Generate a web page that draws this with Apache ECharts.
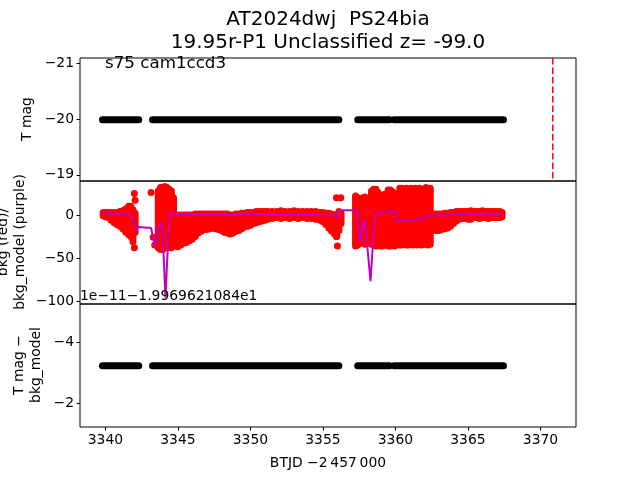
<!DOCTYPE html>
<html>
<head>
<meta charset="utf-8">
<script src="https://cdn.jsdelivr.net/npm/echarts@6/dist/echarts.min.js"></script>
<style>
  html, body { margin: 0; padding: 0; background: #fff; }
  #chart { width: 640px; height: 480px; }
</style>
</head>
<body>
<div id="chart"></div>
<script>
// time axis ticks (BTJD - 2457000)
const xTicks = [3340, 3345, 3350, 3355, 3360, 3365, 3370];
const discoveryT = 3370.85;

// black light-curve blocks: start/end times of the runs of points
const segStart = [3339.8, 3343.25, 3357.4, 3359.9];
const segEnd = [3342.3, 3356.1, 3359.6, 3367.45];
const tmag = -19.99;          // top panel
const tmagMinusModel = -3.22; // bottom panel (x1e-11, offset shown as text)

// red background points, given as low/high per time bin
const bkgT = [3339.85, 3340.0, 3340.2, 3340.4, 3340.6, 3340.8, 3341.0, 3341.2, 3341.4, 3341.6, 3341.75, 3341.9, 3342.05,
  3343.65, 3343.8, 3343.95, 3344.1, 3344.25, 3344.4, 3344.55, 3344.7,
  3344.85, 3345.0, 3345.2, 3345.4, 3345.6, 3345.8, 3346.0, 3346.2, 3346.4, 3346.6, 3346.8, 3347.0, 3347.2, 3347.4, 3347.6, 3347.8,
  3348.0, 3348.2, 3348.4, 3348.6, 3348.8, 3349.0, 3349.2, 3349.4, 3349.6, 3349.8, 3350.0, 3350.2, 3350.4, 3350.6, 3350.8, 3351.0, 3351.2,
  3351.5, 3351.8, 3352.1, 3352.4, 3352.7, 3353.0, 3353.3, 3353.6, 3353.9, 3354.2, 3354.5, 3354.8,
  3355.0, 3355.2, 3355.4, 3355.6, 3355.8, 3355.95, 3356.1, 3356.25,
  3357.25, 3357.4, 3357.75, 3357.9, 3358.05, 3358.35, 3358.5, 3358.65, 3358.8, 3358.95, 3359.1, 3359.25, 3359.5, 3359.65, 3359.8, 3359.95,
  3360.3, 3360.45, 3360.6, 3360.75, 3360.9, 3361.05, 3361.2, 3361.35, 3361.5, 3361.65, 3361.8, 3361.95, 3362.1, 3362.25, 3362.4,
  3362.6, 3362.8, 3363.0, 3363.2, 3363.4, 3363.6, 3363.8, 3364.0, 3364.2, 3364.4, 3364.6,
  3364.8, 3365.0, 3365.2, 3365.4, 3365.6, 3365.8, 3366.0, 3366.2, 3366.4, 3366.6, 3366.8, 3367.0, 3367.2, 3367.35];
const bkgLo = [-1, -2, -3, -6, -9, -11, -13, -16, -20, -23, -25, -28, -20,
  -38, -40, -40, -38, -36, -38, -38, -36,
  -36, -37, -35, -33, -32, -30, -28, -25, -21, -19, -17, -17, -16, -15, -16, -17,
  -18, -20, -21, -22, -21, -19, -18, -16, -14, -13, -12, -10, -9, -8, -7, -6, -5,
  -4, -3, -4, -3, -4, -3, -4, -3, -4, -4, -5, -6,
  -8, -11, -15, -19, -22, -25, -18, -10,
  -36, -35, -33, -34, -33, -34, -35, -36, -35, -36, -36, -35, -36, -36, -35, -36,
  -35, -35, -34, -35, -35, -34, -35, -34, -35, -34, -35, -34, -34, -35, -34,
  -18, -18, -18, -17, -16, -15, -13, -10, -7, -5, -4,
  -4, -5, -5, -3, -3, -4, -3, -3, -4, -3, -3, -3, -3, -2];
const bkgHi = [3, 3, 3, 3, 3, 3, 4, 5, 7, 10, 10, 6, 2,
  28, 32, 30, 33, 32, 30, 28, 20,
  0, 0, 0, 0, 0, 0, 0, 1, 1, 1, 1, 1, 1, 1, 1, 1,
  1, 1, 1, 0, 0, 1, 1, 2, 2, 3, 3, 3, 4, 4, 4, 4, 4,
  4, 4, 5, 4, 4, 5, 4, 4, 4, 4, 4, 3,
  3, 2, 2, 1, 0, 0, 4, 2,
  22, 20, 20, 21, 19, 28, 30, 30, 26, 22, 22, 24, 29, 29, 27, 25,
  31, 31, 30, 31, 28, 31, 30, 31, 29, 31, 30, 28, 32, 30, 31,
  1, 1, 1, 1, 2, 2, 3, 3, 4, 4, 4,
  4, 4, 5, 4, 4, 4, 5, 4, 4, 4, 4, 4, 4, 3];

// isolated red points
const outT = [3341.9, 3342.0, 3342.0, 3342.05, 3343.15, 3343.3, 3343.4, 3355.93, 3356.23, 3355.93, 3356.0];
const outV = [-31, -38, 25, 17, 26, -26, -35, 20, 20, -25, -36];

// purple background model
const modelT = [3339.85, 3341.75, 3341.95, 3342.12, 3342.3, 3343.15, 3343.3, 3343.45, 3343.6, 3343.85, 3343.96, 3344.14, 3344.42,
  3345.5, 3347.0, 3348.5, 3350.0, 3351.5, 3353.0, 3354.5, 3355.9, 3356.0, 3356.1, 3357.38, 3357.54, 3357.89, 3358.28, 3358.58,
  3359.27, 3359.96, 3360.08, 3361.34, 3361.55, 3361.8, 3362.24, 3362.72, 3363.5, 3364.2, 3365.5, 3367.35];
const modelV = [2, 1, -6, -17, -14, -15, -27, -37, -17, -8, -25, -96, 2,
  1, 1, 0, 1, 0, 0, 0, -1, -4, 5.5, 5.5, -32, -5, -77, 1,
  4, 4, -7, -7, -4, -5, -1, 0, -1, 1, 1, 1];

const yTicks1 = [-21, -20, -19];
const yTicks2 = [-100, -50, 0];
const yTicks3 = [-4, -2];

const FONT = 'DejaVu Sans';
const xMin = 3338.25, xMax = 3372.45;
const y1Min = -21.095, y1Max = -18.89;

const fmt = v => String(v).replace('-', '\u2212');

const myChart = echarts.init(document.getElementById('chart'));

function gridOpt(top) {
  return { left: 80, right: 64, top: top, height: 123, show: true, borderColor: '#000', borderWidth: 1, backgroundColor: 'transparent' };
}
function xAx(i, withTicks) {
  return {
    type: 'value', gridIndex: i, min: xMin, max: xMax,
    axisLine: { show: false },
    splitLine: { show: false },
    axisTick: { show: withTicks, customValues: xTicks, length: 3.5, lineStyle: { color: '#000' } },
    axisLabel: { show: withTicks, customValues: xTicks, color: '#000', fontSize: 13.9, fontFamily: FONT, margin: 6, formatter: v => String(v) }
  };
}
function yAx(i, min, max, ticks, inverse) {
  return {
    type: 'value', gridIndex: i, min: min, max: max, inverse: inverse,
    axisLine: { show: false },
    splitLine: { show: false },
    axisTick: { show: true, customValues: ticks, length: 3.5, lineStyle: { color: '#000' } },
    axisLabel: { customValues: ticks, color: '#000', fontSize: 13.9, fontFamily: FONT, margin: 6, formatter: fmt }
  };
}

// thick round-capped strokes stand in for the dense dot runs
function stroke(color) {
  return function (params, api) {
    const a = api.coord([api.value(0), api.value(1)]);
    const b = api.coord([api.value(2), api.value(3)]);
    return {
      type: 'line',
      shape: { x1: a[0], y1: a[1], x2: b[0], y2: b[1] },
      style: { stroke: color, lineWidth: 7, lineCap: 'round' }
    };
  };
}

const blackTop = segStart.map((s, i) => [s, tmag, segEnd[i], tmag]);
const blackBot = segStart.map((s, i) => [s, tmagMinusModel, segEnd[i], tmagMinusModel]);
const redCols = bkgT.map((t, i) => [t, bkgLo[i], t, bkgHi[i]]);

function txt(x, y, text, size, opts) {
  return Object.assign({
    type: 'text', x: x, y: y, z: 100,
    style: Object.assign({ text: text, fill: '#000', fontSize: size, fontFamily: FONT, align: 'center', verticalAlign: 'middle', lineHeight: 17 }, (opts && opts.style) || {})
  }, opts && opts.rotation ? { rotation: opts.rotation } : {});
}

const option = {
  animation: false,
  backgroundColor: '#fff',
  grid: [gridOpt(58), gridOpt(181), gridOpt(304)],
  xAxis: [xAx(0, false), xAx(1, false), xAx(2, true)],
  yAxis: [
    yAx(0, y1Min, y1Max, yTicks1, true),
    yAx(1, -103.5, 39.5, yTicks2, false),
    yAx(2, -5.25, -1.21, yTicks3, true)
  ],
  series: [
    { type: 'custom', xAxisIndex: 0, yAxisIndex: 0, renderItem: stroke('#000'), data: blackTop },
    {
      type: 'line', xAxisIndex: 0, yAxisIndex: 0, symbol: 'none',
      lineStyle: { color: '#ff0000', width: 1.5, type: [6.5, 3] },
      data: [[discoveryT, y1Min], [discoveryT, y1Max]]
    },
    { type: 'custom', xAxisIndex: 1, yAxisIndex: 1, renderItem: stroke('#ff0000'), data: redCols },
    {
      type: 'scatter', xAxisIndex: 1, yAxisIndex: 1, symbolSize: 7,
      itemStyle: { color: '#ff0000', opacity: 1 },
      data: outT.map((t, i) => [t, outV[i]])
    },
    {
      type: 'line', xAxisIndex: 1, yAxisIndex: 1, symbol: 'none',
      lineStyle: { color: '#bf00bf', width: 2 },
      data: modelT.map((t, i) => [t, modelV[i]])
    },
    { type: 'custom', xAxisIndex: 2, yAxisIndex: 2, renderItem: stroke('#000'), data: blackBot }
  ],
  graphic: [
    txt(328, 20, 'AT2024dwj  PS24bia', 20),
    txt(328, 43, '19.95r-P1 Unclassified z= -99.0', 20, { style: { lineHeight: 22 } }),
    txt(105, 64, 's75 cam1ccd3', 16.7, { style: { align: 'left' } }),
    txt(27, 119, 'T mag', 13.9, { rotation: Math.PI / 2 }),
    txt(12, 242, 'bkg (red)/\nbkg_model (purple)', 13.9, { rotation: Math.PI / 2 }),
    txt(28, 365, 'T mag \u2212\nbkg_model', 13.9, { rotation: Math.PI / 2 }),
    txt(80, 296, '1e\u221211\u22121.9969621084e1', 13.9, { style: { align: 'left' } }),
    txt(328, 463, 'BTJD \u22122\u2009457\u2009000', 13.9)
  ]
};

myChart.setOption(option);
</script>
</body>
</html>
